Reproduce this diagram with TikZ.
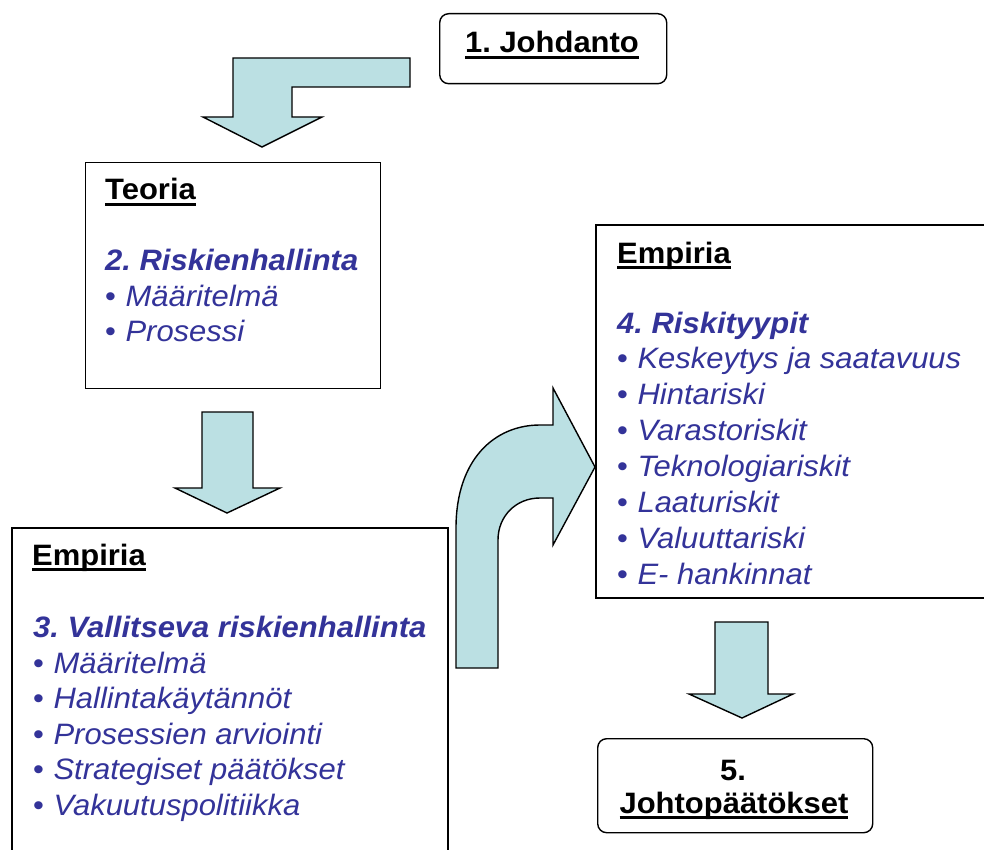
\documentclass[tikz,border=0pt]{standalone}
\usepackage{fontspec}
\setmainfont{Liberation Sans}[FakeStretch=1.05]
\frenchspacing
\newcommand\ulbar[1]{\setbox0\hbox{#1}\leavevmode\rlap{\rule[-6pt]{\wd0}{2.8pt}}\box0}
\definecolor{arrowfill}{RGB}{187,224,227}
\definecolor{txtblue}{RGB}{51,51,153}
\newcommand\bul{{\upshape\textbullet}\hspace{9.5pt}}
\begin{document}
\begin{tikzpicture}[x=1pt,y=-1pt,
  frame/.style={draw=black, line width=1.4pt},
  rframe/.style={draw=black, line width=1.4pt, rounded corners=9pt},
  blockarrow/.style={draw=black, line width=1.4pt, fill=arrowfill, line join=miter},
  txt/.style={anchor=base west, inner sep=0pt, font=\fontsize{29.5}{35}\selectfont\frenchspacing},
  head/.style={txt, font=\fontsize{29.5}{35}\selectfont\bfseries\frenchspacing},
  chead/.style={head, anchor=base},
  ttl/.style={txt, text=txtblue, font=\fontsize{29.5}{35}\selectfont\bfseries\itshape\frenchspacing},
  itm/.style={txt, text=txtblue, font=\fontsize{29.5}{35}\selectfont\itshape\frenchspacing}
]
\useasboundingbox (0,0) rectangle (984,850);
\fill[white] (0,0) rectangle (984,850);

% 1. Johdanto
\node[rframe, anchor=north west, minimum width=227pt, minimum height=70pt] (johbox) at (439,13) {};
\node[chead] (joh) at (552,53) {\ulbar{1. Johdanto}};

% bent arrow top-left
\draw[blockarrow] (410,58) -- (233,58) -- (233,117) -- (203,117) -- (262,147) -- (322,117) -- (292,117) -- (292,87) -- (410,87) -- cycle;

% Teoria box
\node[frame, anchor=north west, minimum width=295pt, minimum height=226pt] (teoriabox) at (85,162) {};
\node[head] (teoria) at (105,200) {\ulbar{Teoria}};
\node[ttl] (t2) at (105,270) {2. Riskienhallinta};
\node[itm] (t2a) at (105,306) {\bul Määritelmä};
\node[itm] (t2b) at (105,341) {\bul Prosessi};

% arrow 2
\draw[blockarrow] (202,412) -- (253,412) -- (253,488) -- (280,488) -- (227,513) -- (175,488) -- (202,488) -- cycle;

% Empiria left box (cut at bottom)
\draw[frame] (12,860) -- (12,528) -- (448,528) -- (448,860);
\node[head] (emp1) at (32,565) {\ulbar{Empiria}};
\node[ttl] (e3) at (33,637) {3. Vallitseva riskienhallinta};
\node[itm] (e3a) at (33,673) {\bul Määritelmä};
\node[itm] (e3b) at (33,708.5) {\bul Hallintakäytännöt};
\node[itm] (e3c) at (33,744) {\bul Prosessien arviointi};
\node[itm] (e3d) at (33,779.5) {\bul Strategiset päätökset};
\node[itm] (e3e) at (33,815) {\bul Vakuutuspolitiikka};

% curved arrow
\draw[blockarrow] (456,668) -- (456,528)
  .. controls (456,460) and (494,425) .. (540,425)
  -- (553,425) -- (553,388) -- (595,467) -- (553,545) -- (553,498) -- (540,498)
  .. controls (516,498) and (498,516) .. (498,540)
  -- (498,668) -- cycle;

% Empiria right box (cut at right)
\draw[frame] (990,225) -- (596,225) -- (596,598) -- (990,598);
\node[head] (emp2) at (617,263) {\ulbar{Empiria}};
\node[ttl] (e4) at (617,333) {4. Riskityypit};
\node[itm] (e4a) at (617,368) {\bul Keskeytys ja saatavuus};
\node[itm] (e4b) at (617,404) {\bul Hintariski};
\node[itm] (e4c) at (617,440) {\bul Varastoriskit};
\node[itm] (e4d) at (617,476) {\bul Teknologiariskit};
\node[itm] (e4e) at (617,512) {\bul Laaturiskit};
\node[itm] (e4f) at (617,548) {\bul Valuuttariski};
\node[itm] (e4g) at (617,584) {\bul E- hankinnat};

% arrow 4
\draw[blockarrow] (715,622) -- (768,622) -- (768,694) -- (793,694) -- (742,718) -- (689,694) -- (715,694) -- cycle;

% 5. Johtopäätökset
\node[rframe, anchor=north west, minimum width=275pt, minimum height=94pt] (johtbox) at (597,738) {};
\node[chead] (j5) at (733,780) {5.};
\node[chead] (j5b) at (734,813) {\ulbar{Johtopäätökset}};
\end{tikzpicture}
\end{document}
